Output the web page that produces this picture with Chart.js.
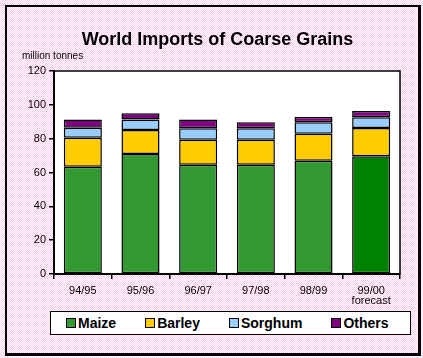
<!DOCTYPE html>
<html>
<head>
<meta charset="utf-8">
<script src="https://cdn.jsdelivr.net/npm/chart.js@4"></script>
<style>
html, body { margin: 0; padding: 0; }
body {
    width: 423px; height: 358px; position: relative; overflow: hidden;
    background: repeating-conic-gradient(#ffccee 0 25%, #ffffff 0 50%) 0 0 / 2px 2px;
    font-family: Arial, "Liberation Sans", sans-serif;
}
#frame {
    position: absolute; left: 5px; top: 5px; width: 411px; height: 346px;
    border-style: solid; border-color: #000; border-width: 2px 3px 3px 2px;
}
#wrap { position: absolute; left: 0; top: 0; width: 423px; height: 358px; }
#legend {
    position: absolute; left: 50px; top: 311px; width: 344px; height: 22px;
    border: 1px solid #000; background: #fff;
    display: flex; align-items: center; gap: 29px; padding-left: 15px; box-sizing: content-box;
    font: bold 14px Arial, "Liberation Sans", sans-serif; color: #000;
}
#legend .item { display: flex; align-items: center; }
#legend .box { width: 8px; height: 8px; border: 1px solid #000; margin-right: 2px; }
</style>
</head>
<body>
<div id="frame"></div>
<div id="wrap"><canvas id="grainChart" width="423" height="358"></canvas></div>
<div id="legend"></div>
<script>
// Seasons on the x axis (last one is a forecast)
const seasons = [['94/95'], ['95/96'], ['96/97'], ['97/98'], ['98/99'], ['99/00', 'forecast']];

// million tonnes
const maize   = [63.4, 70.9, 64.6, 64.6, 67.0, 69.6];
const barley  = [17.2, 14.2, 14.8, 14.8, 15.9, 16.7];
const sorghum = [5.9, 6.3, 6.7, 6.7, 6.8, 6.3];
const others  = [4.9, 3.6, 5.3, 3.6, 3.1, 3.7];

const yTicks = [0, 20, 40, 60, 80, 100, 120];

// white plot area with a thin black frame, plus the unit note
const plotFrame = {
    id: 'plotFrame',
    afterLayout(chart) {
        // nudge the title so it sits where the original does
        if (chart.titleBlock) {
            chart.titleBlock.left += 5.5;
            chart.titleBlock.right += 5.5;
        }
    },
    beforeDraw(chart) {
        const {ctx, chartArea: a} = chart;
        ctx.save();
        ctx.fillStyle = '#fff';
        ctx.fillRect(a.left, a.top, a.right - a.left, a.bottom - a.top);
        ctx.restore();
    },
    afterDraw(chart) {
        const {ctx, chartArea: a} = chart;
        ctx.save();
        ctx.strokeStyle = '#000';
        ctx.lineWidth = 1.5;
        ctx.strokeRect(a.left, a.top, a.right - a.left, a.bottom - a.top);
        ctx.fillStyle = '#000';
        ctx.font = '10px Arial, "Liberation Sans", sans-serif';
        ctx.textBaseline = 'alphabetic';
        ctx.fillText('million tonnes', 22, 59);
        ctx.restore();
    }
};

// legend built from the chart's own legend items
const htmlLegend = {
    id: 'htmlLegend',
    afterUpdate(chart) {
        const box = document.getElementById('legend');
        box.innerHTML = '';
        const items = chart.options.plugins.legend.labels.generateLabels(chart);
        items.forEach(it => {
            const el = document.createElement('div');
            el.className = 'item';
            const sw = document.createElement('span');
            sw.className = 'box';
            sw.style.background = it.fillStyle;
            const tx = document.createElement('span');
            tx.textContent = it.text;
            el.appendChild(sw);
            el.appendChild(tx);
            box.appendChild(el);
        });
    }
};

const ctx = document.getElementById('grainChart').getContext('2d');
new Chart(ctx, {
    type: 'bar',
    data: {
        labels: seasons,
        datasets: [
            { label: 'Maize', data: maize,
              backgroundColor: c => c.dataIndex === 5 ? '#008000' : '#339933' },
            { label: 'Barley', data: barley, backgroundColor: '#ffcc00' },
            { label: 'Sorghum', data: sorghum, backgroundColor: '#99ccff' },
            { label: 'Others', data: others, backgroundColor: '#800080' }
        ]
    },
    options: {
        responsive: false,
        animation: false,
        layout: { padding: { left: 24, right: 23, top: 0, bottom: 47 } },
        datasets: {
            bar: {
                borderColor: '#000',
                borderWidth: 1.5,
                borderSkipped: false,
                barPercentage: 0.66,
                categoryPercentage: 1.0
            }
        },
        plugins: {
            legend: { display: false },
            tooltip: { enabled: false },
            title: {
                display: true,
                text: 'World Imports of Coarse Grains',
                color: '#000',
                font: { family: 'Arial, "Liberation Sans", sans-serif', size: 18, weight: 'bold' },
                padding: { top: 29, bottom: 20.4 }
            }
        },
        scales: {
            x: {
                stacked: true,
                afterFit(scale) { scale.height = 37; },
                grid: { offset: true, drawOnChartArea: false, tickLength: 5, color: '#000', lineWidth: 1.5 },
                border: { color: '#000', width: 2 },
                ticks: {
                    color: '#000', padding: 7, maxRotation: 0,
                    font: { family: 'Arial, "Liberation Sans", sans-serif', size: 11, lineHeight: 0.9 }
                }
            },
            y: {
                stacked: true,
                min: yTicks[0],
                max: yTicks[yTicks.length - 1],
                afterFit(scale) { scale.width = 30; },
                afterBuildTicks(scale) { scale.ticks = yTicks.map(v => ({value: v})); },
                grid: { drawOnChartArea: false, tickLength: 5, color: '#000', lineWidth: 1.5 },
                border: { color: '#000', width: 2 },
                ticks: {
                    color: '#000', padding: 3,
                    font: { family: 'Arial, "Liberation Sans", sans-serif', size: 11 }
                }
            }
        }
    },
    plugins: [plotFrame, htmlLegend]
});
</script>
</body>
</html>
